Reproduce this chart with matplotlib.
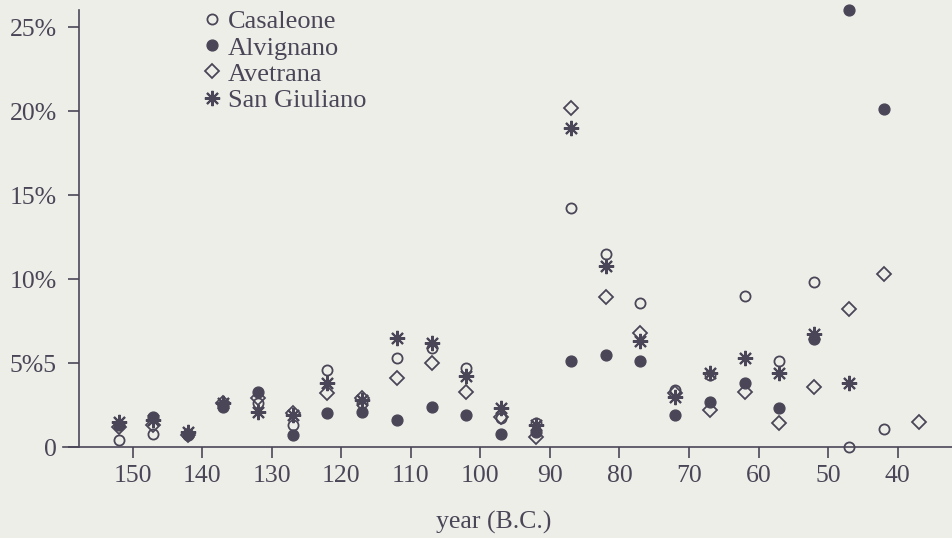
import matplotlib.pyplot as plt
import numpy as np

nan = np.nan

# five-year bins, B.C.
years = [152, 147, 142, 137, 132, 127, 122, 117, 112, 107, 102, 97,
         92, 87, 82, 77, 72, 67, 62, 57, 52, 47, 42, 37]

casaleone = [0.4, 0.8, 0.8, 2.5, 2.6, 1.3, 4.6, 2.6, 5.3, 5.9, 4.7, 1.7,
             1.4, 14.2, 11.5, 8.6, 3.4, 4.3, 9.0, 5.1, 9.8, 0.0, 1.1, nan]
alvignano = [1.3, 1.8, 0.7, 2.4, 3.3, 0.7, 2.0, 2.1, 1.6, 2.4, 1.9, 0.8,
             0.9, 5.1, 5.5, 5.1, 1.9, 2.7, 3.8, 2.3, 6.4, 26.0, 20.1, nan]
avetrana = [1.2, 1.3, 0.7, 2.6, 2.9, 2.0, 3.2, 2.9, 4.1, 5.0, 3.3, 1.8,
            0.6, 20.2, 8.9, 6.8, 3.2, 2.2, 3.3, 1.4, 3.6, 8.2, 10.3, 1.5]
san_giuliano = [1.5, 1.6, 0.9, 2.6, 2.1, 1.9, 3.8, 2.8, 6.5, 6.2, 4.2, 2.3,
                1.3, 19.0, 10.8, 6.3, 3.0, 4.4, 5.3, 4.4, 6.7, 3.8, nan, nan]

y_ticks = [0, 5, 10, 15, 20, 25]
y_labels = ['0', '5%5', '10%', '15%', '20%', '25%']
x_ticks = [150, 140, 130, 120, 110, 100, 90, 80, 70, 60, 50, 40]

ink = '#4b4657'
paper = '#eeeee9'

plt.rcParams['font.family'] = ['Liberation Serif', 'DejaVu Serif']

fig = plt.figure(figsize=(9.52, 5.38), dpi=100, facecolor=paper)
ax = fig.add_axes([63 / 952, 1 - 463.8 / 538, 889 / 952, 458.6 / 538])
ax.set_facecolor(paper)

ax.plot(years, casaleone, linestyle='none', marker='o', markersize=7.3,
        markerfacecolor='none', markeredgecolor=ink, markeredgewidth=1.3,
        label='Casaleone', clip_on=False)
ax.plot(years, alvignano, linestyle='none', marker='o', markersize=7.8,
        markerfacecolor=ink, markeredgecolor=ink, label='Alvignano', clip_on=False)
ax.plot(years, avetrana, linestyle='none', marker='D', markersize=7.2,
        markerfacecolor='none', markeredgecolor=ink, markeredgewidth=1.3,
        label='Avetrana', clip_on=False)
ax.plot(years, san_giuliano, linestyle='none', marker=(8, 2, 0), markersize=11,
        markeredgecolor=ink, markeredgewidth=1.5, label='San Giuliano',
        clip_on=False)

ax.set_xlim(160, 32.2)
ax.set_ylim(-1, 26.3)

for side in ['top', 'right']:
    ax.spines[side].set_visible(False)
ax.spines['left'].set_position(('data', 157.7))
ax.spines['left'].set_bounds(0, 26.0)
ax.spines['bottom'].set_position(('data', 0))
for side in ['left', 'bottom']:
    ax.spines[side].set_color(ink)
    ax.spines[side].set_linewidth(1.2)

ax.set_yticks(y_ticks)
ax.set_yticklabels(y_labels)
ax.set_xticks(x_ticks)
ax.tick_params(axis='y', direction='out', length=8, width=1.2, color=ink,
               pad=8, labelsize=18.5, labelcolor=ink)
ax.tick_params(axis='x', direction='out', length=8, width=1.2, color=ink,
               pad=5, labelsize=18.5, labelcolor=ink)

fig.text(494 / 952, 1 - 522 / 538, 'year (B.C.)', ha='center', va='center',
         fontsize=18.5, color=ink)

leg = ax.legend(loc='upper left', bbox_to_anchor=(203 / 952, 1 - 10 / 538),
                bbox_transform=fig.transFigure, frameon=False, fontsize=19,
                handlelength=0.7, handletextpad=0.25, labelspacing=0.1,
                borderpad=0, borderaxespad=0)
for t in leg.get_texts():
    t.set_color(ink)

fig.savefig('out.png', dpi=100, facecolor=paper)
